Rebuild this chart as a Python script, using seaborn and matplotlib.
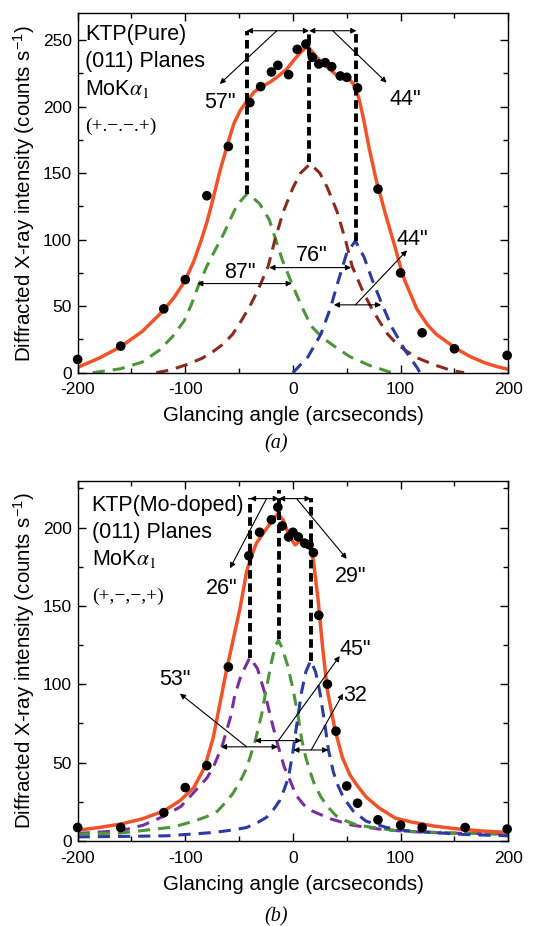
import numpy as np
import seaborn as sns
import matplotlib.pyplot as plt

# ---------------- data ----------------
# (a) KTP pure
a_pts_x = [-200, -160, -120, -100, -80, -60, -40, -30, -20, -14, -4, 4, 12, 18, 24, 30, 36, 44, 50, 60, 79, 100, 120, 150, 199]
a_pts_y = [10, 20, 48, 70, 133, 170, 203, 215, 226, 231, 224, 243, 247, 237, 232, 233, 230, 223, 222, 214, 138, 75, 30, 18, 13]

a_fit_x = [-200, -180, -160, -140, -120, -110, -100, -92, -85, -80, -76, -72, -68, -61, -55, -49, -43, -36, -29, -22, -15, -6,
           3, 10, 14, 17, 22, 30, 37, 43, 51, 56, 61, 65, 71, 77, 86, 95, 100, 104, 115, 125, 133, 145, 154, 165, 178, 190, 200]
a_fit_y = [4, 11, 19.5, 31, 47, 57, 69.5, 84, 100, 113, 125, 138, 151, 171, 187, 197, 204, 211, 215, 218, 222, 228,
           237, 243, 245, 242, 237, 231, 226, 222, 222, 217, 207, 193, 168, 146, 119, 94, 79, 69, 48, 36, 29, 22, 17, 12, 7.5, 4.5, 2.5]

a_green_x = [-186, -160, -140, -124, -112, -101, -94, -88, -80, -73, -64, -52, -42, -31, -22, -16, -10, -1,
             8, 17, 28, 40, 53, 71, 90, 95]
a_green_y = [0, 3, 8, 17, 27, 39, 52, 65, 80, 91, 105, 126, 135, 127, 115, 100, 85, 67,
             50, 35, 26, 19, 12, 5.5, 0.5, 0]

a_brown_x = [-127, -114, -99, -84, -74, -64, -56, -48, -40, -32, -23, -17, -9, 0, 7, 16,
             25, 32, 41, 49, 55, 64, 72, 80, 88, 96, 106, 116, 131, 146, 159]
a_brown_y = [0, 2, 6, 11, 16, 22, 29, 39, 50, 63, 80, 99, 121, 139, 150, 157,
             150, 139, 121, 99, 80, 63, 50, 39, 29, 22, 16, 11, 6, 2, 0]

a_blue_x = [0, 14, 26, 35, 41, 50, 58, 66, 74, 83, 92, 104, 116, 118]
a_blue_y = [0, 12, 29, 49, 66, 90, 99, 87, 69, 51, 34, 17, 3, 0]

# (b) KTP Mo-doped
b_pts_x = [-200, -160, -120, -100, -80, -60, -41, -31, -20, -14, -10, -4, 0, 5, 11, 15, 19, 24, 32, 40, 50, 60, 79, 100, 120, 160, 199]
b_pts_y = [8.5, 8.5, 18, 34, 48, 111, 182, 197, 205, 213, 201, 194, 197, 194, 190, 189, 184, 144, 100, 70, 35, 24, 13.4, 10, 8.5, 8.5, 7.5]

b_fit_x = [-200, -180, -160, -140, -120, -105, -92, -82, -74, -68, -62, -56, -49, -43, -39, -34, -26, -20, -14, -9, -3,
           2, 8, 11, 16, 19, 23.5, 27.5, 32, 39, 46, 53, 60, 68, 80, 95, 110, 130, 150, 175, 200]
b_fit_y = [6.8, 8.5, 10.7, 14, 19, 25.6, 34, 47, 66, 87, 108, 127, 149, 172, 181, 190, 198, 203.6, 209, 204.7, 194,
           189, 192, 192, 187, 179, 153, 124, 96, 71, 53, 42, 35, 28, 21, 14.5, 12, 9.5, 7.8, 6.3, 5.3]

b_purple_x = [-200, -160, -139, -119, -104, -92, -80, -74, -66, -58, -54, -48, -40, -33, -26, -20, -14, -8, -3,
              3, 10, 18, 35, 55, 80, 105, 140, 200]
b_purple_y = [4.7, 6.4, 10, 16, 22, 31, 40, 47, 60, 79, 93, 106, 117, 110, 94, 77, 61, 47, 39,
              29, 23, 19, 14, 10, 7.5, 6, 5, 4.3]

b_green_x = [-200, -160, -140, -115, -105, -92, -80, -70, -62, -56, -49, -44, -40, -35, -29, -24.5, -20, -16.5, -13.5,
             -10, -5, 0, 5, 8, 12, 16, 20, 26, 32, 40, 48, 60, 75, 95, 115, 150, 200]
b_green_y = [4.3, 5, 6.5, 8.5, 10, 12.5, 15.5, 19, 25, 30, 38, 45, 53, 64, 81, 98, 114, 124, 128,
             123, 112, 97, 79, 65, 53, 44, 36, 28, 22, 16, 13, 10, 8.5, 6.5, 5.8, 5, 4.3]

b_blue_x = [-200, -160, -117, -90, -74, -55, -43, -32, -24.5, -18, -12, -8, -4, 0, 3.5, 8, 12, 16.5,
            21, 25, 29.5, 33, 37.5, 42, 47, 56, 68, 87, 105, 130, 160, 200]
b_blue_y = [2.5, 2.8, 3.2, 4.5, 5.3, 7, 8.5, 12, 15, 20, 26, 33, 41, 57, 74, 95, 108, 115,
            108, 95, 75, 58, 44, 35, 27.5, 19, 12.5, 8.5, 6.5, 5.3, 4, 3.2]

# ---------------- style ----------------
sns.set_style("ticks")
plt.rcParams['font.family'] = ['Liberation Sans', 'DejaVu Sans']
plt.rcParams['mathtext.fontset'] = 'stix'
plt.rcParams['axes.unicode_minus'] = False
plt.rcParams['text.color'] = 'black'
plt.rcParams['axes.labelcolor'] = 'black'
plt.rcParams['xtick.color'] = 'black'
plt.rcParams['ytick.color'] = 'black'

ORANGE = '#F0532A'
GREEN = '#4E943A'
BROWN = '#8A2B1F'
BLUE = '#2B3C9C'
PURPLE = '#7A2E9E'

fig = plt.figure(figsize=(5.43, 9.26), dpi=100)
ax1 = fig.add_axes([0.143, 0.5975, 0.793, 0.388])
ax2 = fig.add_axes([0.143, 0.092, 0.793, 0.389])

comp_dash = (0, (4, 2.6))
vdash = (0, (2.2, 1.2))


def style_axes(ax, ymax):
    ax.set_xlim(-200, 200)
    ax.set_ylim(0, ymax)
    ax.set_xticks([-200, -100, 0, 100, 200])
    ax.set_xticks([-150, -50, 50, 150], minor=True)
    ax.set_yticks(np.arange(0, ymax, 50))
    ax.set_yticks(np.arange(25, ymax, 50), minor=True)
    ax.tick_params(which='both', direction='in', top=True, right=True, labelsize=12.5, width=1,
                   colors='black')
    ax.tick_params(axis='x', which='major', pad=7)
    ax.tick_params(axis='y', which='major', pad=4)
    ax.tick_params(which='major', length=6)
    ax.tick_params(which='minor', length=3.5)
    for s in ax.spines.values():
        s.set_linewidth(1)
        s.set_color('black')
    ax.set_xlabel('Glancing angle (arcseconds)', fontsize=14.8, labelpad=6.5)
    ax.set_ylabel('Diffracted X-ray intensity (counts s$^{\\mathregular{-1}}$)', fontsize=14.8, labelpad=4)


def arrow(ax, start, tip, style='-|>'):
    ax.annotate('', xy=tip, xytext=start,
                arrowprops=dict(arrowstyle=style, lw=0.8, color='black',
                                mutation_scale=8, shrinkA=0, shrinkB=0))


# ---------------- (a) ----------------
sns.lineplot(x=a_green_x, y=a_green_y, ax=ax1, color=GREEN, lw=2.2, linestyle=comp_dash, sort=False)
sns.lineplot(x=a_brown_x, y=a_brown_y, ax=ax1, color=BROWN, lw=2.2, linestyle=comp_dash, sort=False)
sns.lineplot(x=a_blue_x, y=a_blue_y, ax=ax1, color=BLUE, lw=2.2, linestyle=comp_dash, sort=False)
sns.lineplot(x=a_fit_x, y=a_fit_y, ax=ax1, color=ORANGE, lw=2.5, sort=False)
sns.scatterplot(x=a_pts_x, y=a_pts_y, ax=ax1, color='black', s=48, edgecolor='none', zorder=5, clip_on=False)

for xv, y0 in [(-43, 134), (15, 158), (59, 99)]:
    ax1.plot([xv, xv], [y0, 257], color='black', lw=2.8, linestyle=vdash)
arrow(ax1, (-43, 257), (15, 257), '<|-|>')
arrow(ax1, (15, 257), (59, 257), '<|-|>')
arrow(ax1, (-15, 257), (-68, 217))
arrow(ax1, (37, 257), (87, 218))
ax1.text(-68, 203, '57"', fontsize=15.5, ha='center', va='center')
ax1.text(104, 205, '44"', fontsize=15.5, ha='center', va='center')

arrow(ax1, (-89, 67), (-1, 67), '<|-|>')
ax1.text(-49, 75, '87"', fontsize=15.5, ha='center', va='center')
arrow(ax1, (-22, 79), (54, 79), '<|-|>')
ax1.text(17, 88, '76"', fontsize=15.5, ha='center', va='center')
arrow(ax1, (38, 51), (82, 51), '<|-|>')
arrow(ax1, (58, 51), (106, 92))
ax1.text(111, 100, '44"', fontsize=15.5, ha='center', va='center')

ax1.text(-193, 254, 'KTP(Pure)', fontsize=15.5, va='center')
ax1.text(-193, 234, '(011) Planes', fontsize=15.5, va='center')
ax1.text(-193, 213, 'MoK$\\alpha_{\\mathrm{1}}$', fontsize=15.5, va='center')
ax1.text(-193, 185, '(+.\u2212.\u2212.+)', fontsize=14, va='center', family='Liberation Serif')
style_axes(ax1, 270)

# ---------------- (b) ----------------
sns.lineplot(x=b_purple_x, y=b_purple_y, ax=ax2, color=PURPLE, lw=2.2, linestyle=comp_dash, sort=False)
sns.lineplot(x=b_green_x, y=b_green_y, ax=ax2, color=GREEN, lw=2.2, linestyle=comp_dash, sort=False)
sns.lineplot(x=b_blue_x, y=b_blue_y, ax=ax2, color=BLUE, lw=2.2, linestyle=comp_dash, sort=False)
sns.lineplot(x=b_fit_x, y=b_fit_y, ax=ax2, color=ORANGE, lw=2.5, sort=False)
sns.scatterplot(x=b_pts_x, y=b_pts_y, ax=ax2, color='black', s=48, edgecolor='none', zorder=5, clip_on=False)

for xv, y0, y1 in [(-40, 117, 219), (-13, 129, 224), (16.5, 115, 219)]:
    ax2.plot([xv, xv], [y0, y1], color='black', lw=2.8, linestyle=vdash)
arrow(ax2, (-40, 218.5), (-13, 218.5), '<|-|>')
arrow(ax2, (-13, 218.5), (16.5, 218.5), '<|-|>')
arrow(ax2, (-24.5, 218.5), (-58.5, 174))
arrow(ax2, (3.4, 218.5), (50, 180))
ax2.text(-66, 161, '26"', fontsize=15.5, ha='center', va='center')
ax2.text(54, 169, '29"', fontsize=15.5, ha='center', va='center')

arrow(ax2, (-67, 60), (-14, 60), '<|-|>')
arrow(ax2, (-43, 60), (-105, 94))
ax2.text(-110, 103, '53"', fontsize=15.5, ha='center', va='center')
arrow(ax2, (-35.5, 64), (8, 64), '<|-|>')
arrow(ax2, (-13.5, 64), (43.5, 118))
ax2.text(58, 122, '45"', fontsize=15.5, ha='center', va='center')
arrow(ax2, (0.3, 58), (32.8, 58), '<|-|>')
arrow(ax2, (17, 58), (46.5, 94))
ax2.text(58, 93, '32', fontsize=15.5, ha='center', va='center')

ax2.text(-187, 214, 'KTP(Mo-doped)', fontsize=15.5, va='center')
ax2.text(-187, 197, '(011) Planes', fontsize=15.5, va='center')
ax2.text(-187, 180, 'MoK$\\alpha_{\\mathrm{1}}$', fontsize=15.5, va='center')
ax2.text(-187, 156, '(+,\u2212,\u2212,+)', fontsize=14, va='center', family='Liberation Serif')
style_axes(ax2, 230)

fig.text(0.508, 1 - 444 / 926, '(a)', fontsize=14.5, ha='center', va='center',
         family='Liberation Serif', style='italic')
fig.text(0.508, 1 - 917 / 926, '(b)', fontsize=14.5, ha='center', va='center',
         family='Liberation Serif', style='italic')

fig.savefig('out.png', dpi=100)
